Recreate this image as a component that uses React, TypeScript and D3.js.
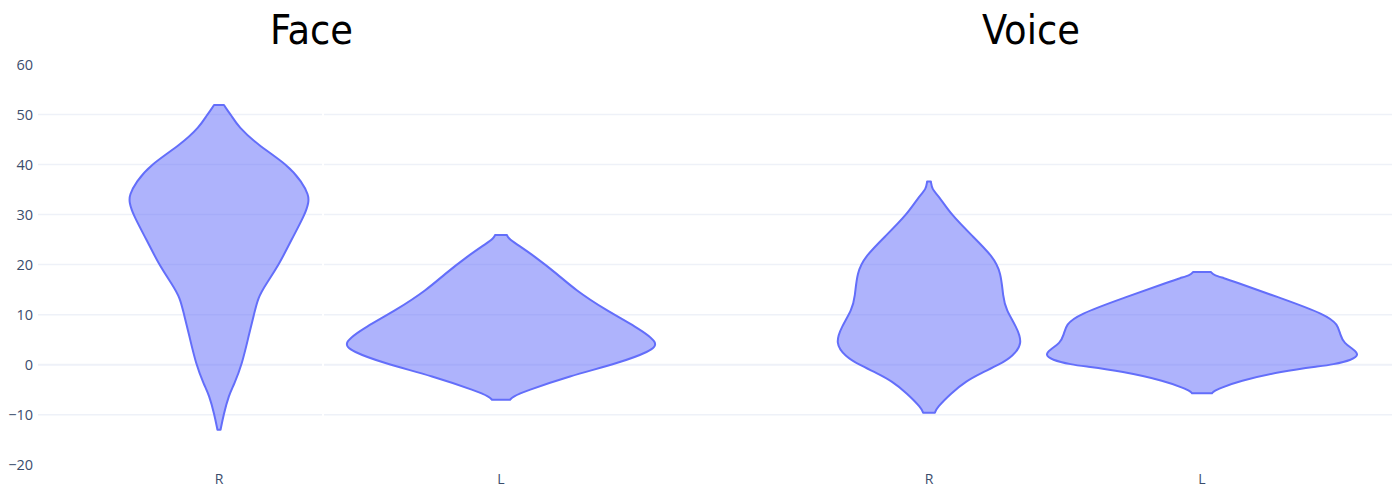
import React from "react";
import * as d3 from "d3";

const W = 1398;
const H = 492;

const yTicks = [-20, -10, 0, 10, 20, 30, 40, 50, 60];
const gridValues = [-10, 0, 10, 20, 30, 40, 50];
const panelTitles = ["Face", "Voice"];
const faceCategories = ["R", "L"];
const voiceCategories = ["R", "L"];

// Face, R: value -> relative density (100 = widest violin)
const faceRValues = [51.9, 51.0, 49.9, 47.5, 44, 39.9, 36.5, 33.9, 32.5, 30, 25, 20, 16, 13.4, 10, 6, 0, -4, -6, -10, -13];
const faceRDensity = [3.2, 5.0, 7.7, 12.5, 24.5, 44.2, 53.2, 57.4, 57.6, 55.1, 46.5, 38.5, 29.9, 25.0, 22.4, 19.2, 14.7, 9.6, 6.4, 2.9, 1.0];

// Face, L
const faceLValues = [25.9, 25.2, 24.3, 21.6, 18, 15, 11, 7.6, 4.3, 2.65, 0.34, -2.3, -5.3, -6.4, -7.0];
const faceLDensity = [3.8, 5.0, 9.0, 21.8, 36.5, 47.4, 66.7, 86.5, 102.0, 95.5, 75.6, 43.6, 15.4, 7.5, 5.8];

// Voice, R
const voiceRValues = [36.6, 35, 33.9, 30, 25.6, 21.6, 18.4, 13.6, 11, 7.6, 4.3, 1.7, 0, -1.7, -3.3, -5.7, -8.6, -9.6];
const voiceRDensity = [1.2, 2.0, 5.8, 14.1, 28.2, 41.0, 46.2, 47.4, 49.4, 56.0, 60.2, 53.8, 44.9, 33.3, 23.7, 14.1, 5.0, 3.8];

// Voice, L
const voiceLValues = [18.5, 17.9, 17.3, 16.6, 13.3, 10, 8, 6, 4.3, 3, 2, 1, 0, -0.3, -1.3, -3.3, -4.7, -5.3, -5.7];
const voiceLDensity = [5.8, 7.5, 14.1, 20.5, 50.6, 79.5, 87.2, 88.5, 91.0, 97.5, 100.5, 96.8, 83.3, 75.6, 51.3, 23.1, 11.5, 7.5, 6.4];

const FILL = "rgba(99,110,250,0.52)";
const STROKE = "#636efa";
const GRID = "#eef1f8";
const TICK = "#3b4d6c";

type Pt = { v: number; d: number };
const zip = (vs: number[], ds: number[]): Pt[] => vs.map((v, i) => ({ v, d: ds[i] }));

export default function App() {
  const y = d3.scaleLinear().domain([-20, 60]).range([464.8, 64.4]);
  const wScale = d3.scaleLinear().domain([0, 100]).range([0, 156]);
  const xFace = d3.scalePoint<string>().domain(faceCategories).range([78, 642]).padding(0.5);
  const xVoice = d3.scalePoint<string>().domain(voiceCategories).range([792.5, 1338.5]).padding(0.5);

  const violins = [
    { cx: xFace("R")!, pts: zip(faceRValues, faceRDensity) },
    { cx: xFace("L")!, pts: zip(faceLValues, faceLDensity) },
    { cx: xVoice("R")!, pts: zip(voiceRValues, voiceRDensity) },
    { cx: xVoice("L")!, pts: zip(voiceLValues, voiceLDensity) },
  ];

  const areaFor = (cx: number) =>
    d3
      .area<Pt>()
      .y((p) => y(p.v))
      .x0((p) => cx - wScale(p.d))
      .x1((p) => cx + wScale(p.d))
      .curve(d3.curveBasis);

  const tickFont = "'Open Sans', 'Noto Sans', sans-serif";
  const gridLeft = 38;
  const gridRight = 1392;
  const gap = [322, 324];

  return (
    <svg
      width={W}
      height={H}
      viewBox={`0 0 ${W} ${H}`}
      style={{ position: "absolute", left: 0, top: 0, background: "#fff" }}
    >
      {gridValues.map((g) => (
        <g key={g}>
          <line x1={gridLeft} x2={gap[0]} y1={y(g)} y2={y(g)} stroke={GRID} strokeWidth={g === 0 ? 2 : 1.5} />
          <line x1={gap[1]} x2={gridRight} y1={y(g)} y2={y(g)} stroke={GRID} strokeWidth={g === 0 ? 2 : 1.5} />
        </g>
      ))}
      {yTicks.map((t) => (
        <text
          key={t}
          x={33}
          y={y(t)}
          textAnchor="end"
          dominantBaseline="central"
          fontFamily={tickFont}
          fontSize={14.5}
          fill={TICK}
        >
          {t < 0 ? `\u2212${Math.abs(t)}` : t}
        </text>
      ))}
      {violins.map((vl, i) => (
        <path
          key={i}
          d={areaFor(vl.cx)(vl.pts) || ""}
          fill={FILL}
          stroke={STROKE}
          strokeWidth={2}
          strokeLinejoin="round"
        />
      ))}
      {faceCategories.map((c) => (
        <text key={"f" + c} x={xFace(c)} y={478} textAnchor="middle" dominantBaseline="central" fontFamily={tickFont} fontSize={14} fill={TICK}>
          {c}
        </text>
      ))}
      {voiceCategories.map((c) => (
        <text key={"v" + c} x={xVoice(c)} y={478} textAnchor="middle" dominantBaseline="central" fontFamily={tickFont} fontSize={14} fill={TICK}>
          {c}
        </text>
      ))}
      <text x={311.5} y={44} textAnchor="middle" fontFamily="'Liberation Sans Narrow', 'DejaVu Sans Condensed', 'Noto Sans', sans-serif" fontSize={41} fill="#000">
        {panelTitles[0]}
      </text>
      <text x={1031} y={44} textAnchor="middle" fontFamily="'Liberation Sans Narrow', 'DejaVu Sans Condensed', 'Noto Sans', sans-serif" fontSize={41} fill="#000">
        {panelTitles[1]}
      </text>
    </svg>
  );
}
